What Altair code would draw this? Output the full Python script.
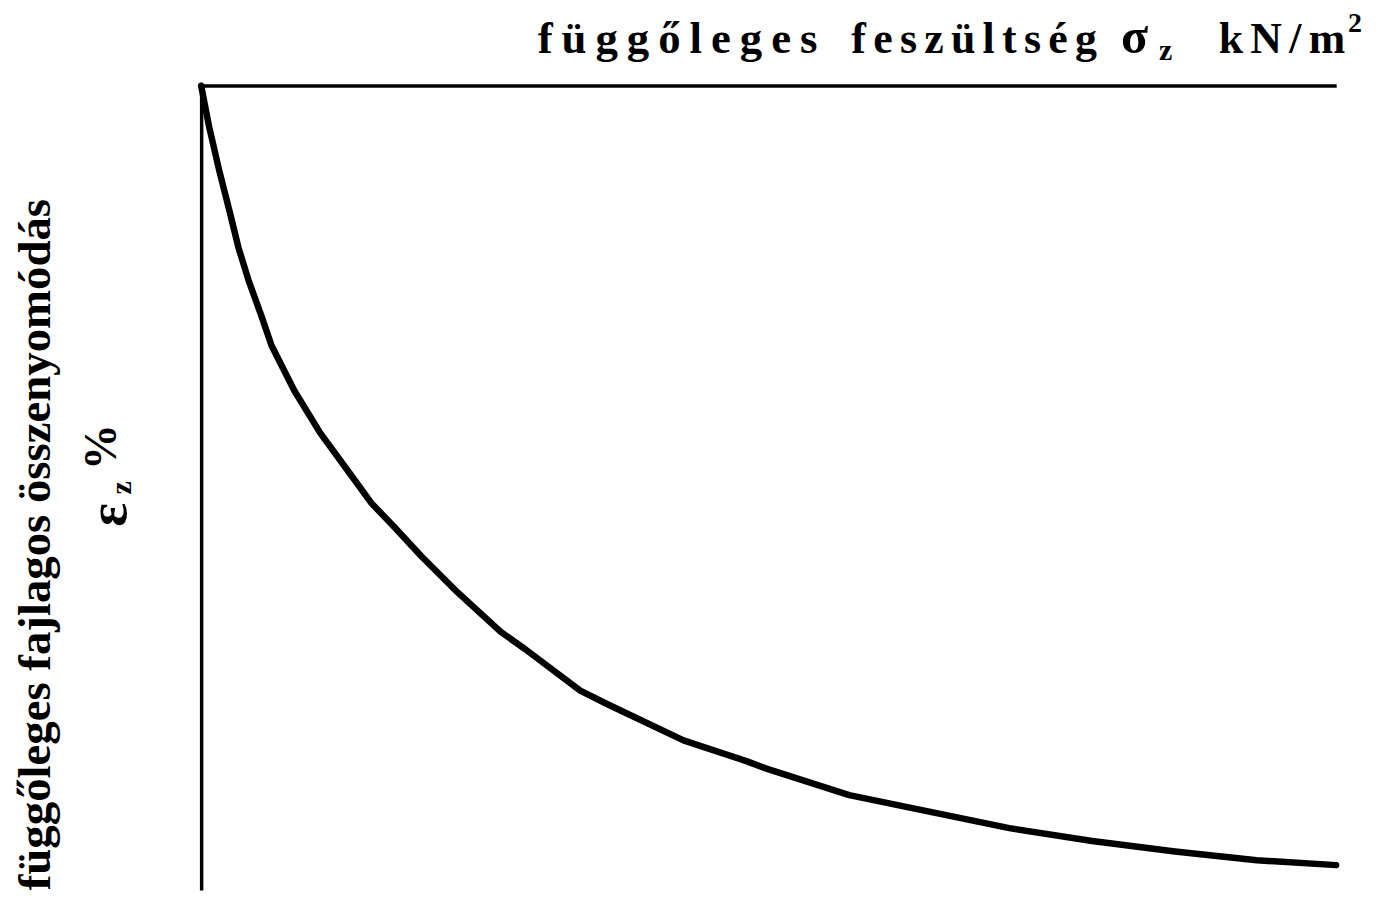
import altair as alt
import pandas as pd

# curve (relative units, 0..100)
sigma = [0, 0.7, 1.6, 2.5, 3.3, 4.2, 5.3, 6.2, 8.2, 10.5, 13.2, 15.0, 17.1, 19.4, 22.6,
         26.4, 28.5, 33.4, 35.8, 42.5, 48.1, 49.8, 57.1, 71.2, 78.5, 85.8, 93.0, 100.0]
eps = [0, 5.1, 10.6, 15.6, 20.2, 24.3, 28.6, 32.3, 37.9, 43.2, 48.4, 51.9, 55.0, 58.5, 63.0,
       67.9, 70.0, 75.2, 76.9, 81.4, 84.0, 84.9, 88.2, 92.3, 93.9, 95.2, 96.3, 96.9]

title_words = ["függőleges", "feszültség"]
unit_text = "kN/m"
left_title = "függőleges fajlagos összenyomódás"

FONT = "Liberation Serif"
THIN = "\u2009"
SIXTH = "\u2006"


def spaced(s, sep=THIN):
    return sep.join(list(s))


df = pd.DataFrame({"sigma": sigma, "eps": eps})
dummy = pd.DataFrame({"a": [0]})

W, H = 1140, 808

line = alt.Chart(df).mark_line(color="black", strokeWidth=6.5, strokeCap="round",
                               strokeJoin="round").encode(
    x=alt.X("sigma:Q", scale=alt.Scale(domain=[0, 100], nice=False, zero=False),
            axis=alt.Axis(orient="top", title=None, labels=False, ticks=False, grid=False,
                          domainWidth=3.5, domainColor="black")),
    y=alt.Y("eps:Q", scale=alt.Scale(domain=[0, 100], reverse=True, nice=False, zero=False),
            axis=alt.Axis(orient="left", title=None, labels=False, ticks=False, grid=False,
                          domainWidth=3.5, domainColor="black")),
)


def txt(text, x, y, size, angle=0, align="left", baseline="alphabetic"):
    kw = dict(text=text, font=FONT, fontWeight="bold", fontSize=size, color="black",
              align=align, baseline=baseline)
    if angle:
        kw["angle"] = angle
    return alt.Chart(dummy).mark_text(**kw).encode(x=alt.value(x), y=alt.value(y))


layers = [
    line,
    txt(spaced(title_words[0]), 338, -33, 45),
    txt(spaced(title_words[1], SIXTH), 653, -33, 44),
    txt("σ", 924, -33, 50),
    txt("z", 962, -26, 30),
    txt(spaced(unit_text, SIXTH), 1022, -33, 44),
    txt("2", 1152, -54, 28),
    txt(left_title, -166, 461, 47, angle=270, align="center", baseline="middle"),
    txt("ε", -92, 431, 56, angle=270, align="center", baseline="middle"),
    txt("z", -79, 404, 30, angle=270, align="center", baseline="middle"),
    txt("%", -100, 363, 46, angle=270, align="center", baseline="middle"),
]

chart = alt.layer(*layers).properties(
    width=W, height=H,
    autosize=alt.AutoSizeParams(type="none"),
    padding={"left": 194, "top": 76, "right": 37, "bottom": 4},
    background="white",
).configure_view(stroke=None)

chart.save("out.html", embed_options={"renderer": "svg", "actions": False})
